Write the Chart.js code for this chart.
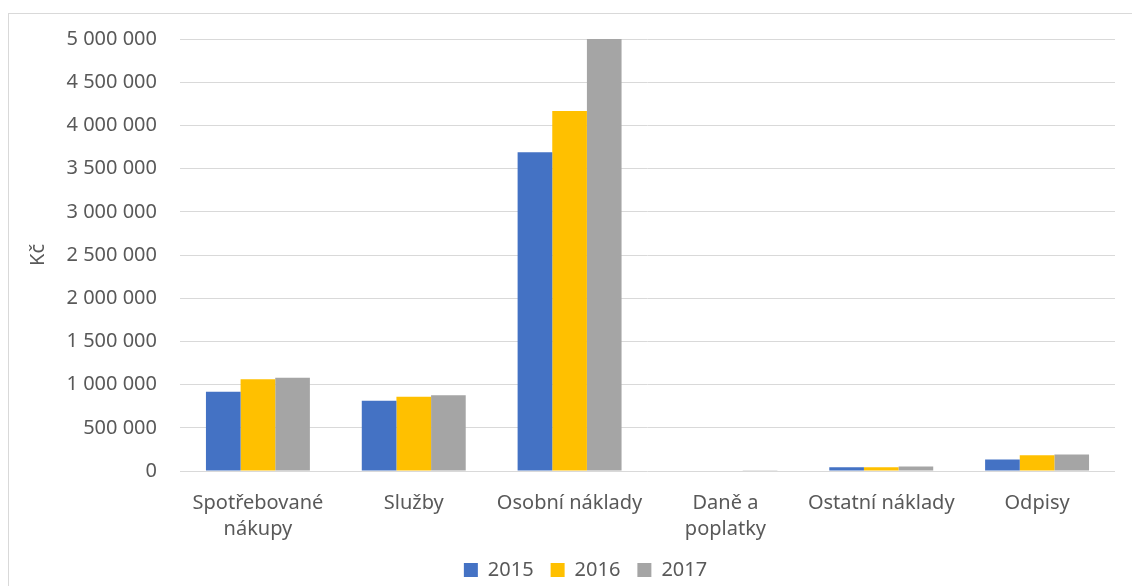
<!DOCTYPE html>
<html>
<head>
    <meta charset="utf-8">
    <title>Náklady 2015-2017</title>
    <script src="https://cdn.jsdelivr.net/npm/chart.js@4.4.3/dist/chart.umd.min.js"></script>
    <style>
        body {
            margin: 0;
            background: #fff;
            font-family: "Noto Sans";
        }

        .frame {
            position: absolute;
            left: 8px;
            top: 13px;
            width: 1200px;
            height: 700px;
            border: 1px solid #d9d9d9;
        }

        .wrap {
            position: absolute;
            left: 0;
            top: 0;
            width: 1132px;
            height: 586px;
        }
    </style>
</head>

<body>
    <div class="frame"></div>
    <div class="wrap">
        <canvas id="naklady"></canvas>
    </div>

    <script>
        const categories = [['Spotřebované', 'nákupy'], 'Služby', 'Osobní náklady', ['Daně a', 'poplatky'], 'Ostatní náklady', 'Odpisy']
        const years = ['2015', '2016', '2017']
        const colors = ['#4472c4', '#ffc000', '#a5a5a5']

        const v2015 = [918000, 814000, 3688000, 6000, 43000, 132000]
        const v2016 = [1061000, 860000, 4167000, 5000, 43000, 182000]
        const v2017 = [1080000, 876000, 5000000, 4000, 51000, 190000]

        const yTicks = { min: 0, max: 5000000, step: 500000 }

        const textColor = '#595959'
        const gridColor = '#d9d9d9'

        function fmt(n) {
            return String(n).replace(/\B(?=(\d{3})+(?!\d))/g, ' ')
        }

        // legend in the original sits a bit right of the canvas centre
        const shiftLegend = {
            id: 'shiftLegend',
            afterLayout(chart) {
                chart.legend.left += 17
                chart.legend.right += 17
            }
        }

        new Chart(document.getElementById('naklady'), {
            type: 'bar',
            data: {
                labels: categories,
                datasets: [v2015, v2016, v2017].map((d, i) => ({
                    label: years[i],
                    data: d,
                    backgroundColor: colors[i],
                    borderWidth: 0,
                    barPercentage: 1,
                    categoryPercentage: 0.667
                }))
            },
            options: {
                responsive: true,
                maintainAspectRatio: false,
                animation: false,
                layout: {
                    padding: { left: 22, right: 17, top: 39, bottom: -4 }
                },
                scales: {
                    x: {
                        grid: { display: false, drawTicks: false },
                        border: { display: false },
                        ticks: {
                            color: textColor,
                            padding: 19,
                            maxRotation: 0,
                            font: { family: 'Noto Sans', size: 20, lineHeight: 1.3 }
                        },
                        afterFit: s => { s.height -= 18 }
                    },
                    y: {
                        min: yTicks.min,
                        max: yTicks.max,
                        border: { display: false },
                        grid: { color: gridColor, lineWidth: 1, drawTicks: false },
                        ticks: {
                            stepSize: yTicks.step,
                            color: textColor,
                            padding: 23,
                            font: { family: 'Noto Sans', size: 20 },
                            callback: v => fmt(v)
                        },
                        title: {
                            display: true,
                            text: 'Kč',
                            color: textColor,
                            font: { family: 'Noto Sans', size: 20 }
                        },
                        afterFit: s => { s.width = 158 }
                    }
                },
                plugins: {
                    legend: {
                        position: 'bottom',
                        labels: {
                            color: textColor,
                            boxWidth: 14,
                            boxHeight: 14,
                            padding: 17,
                            font: { family: 'Noto Sans', size: 20 }
                        }
                    },
                    tooltip: { enabled: false }
                }
            },
            plugins: [shiftLegend]
        })
    </script>
</body>
</html>
